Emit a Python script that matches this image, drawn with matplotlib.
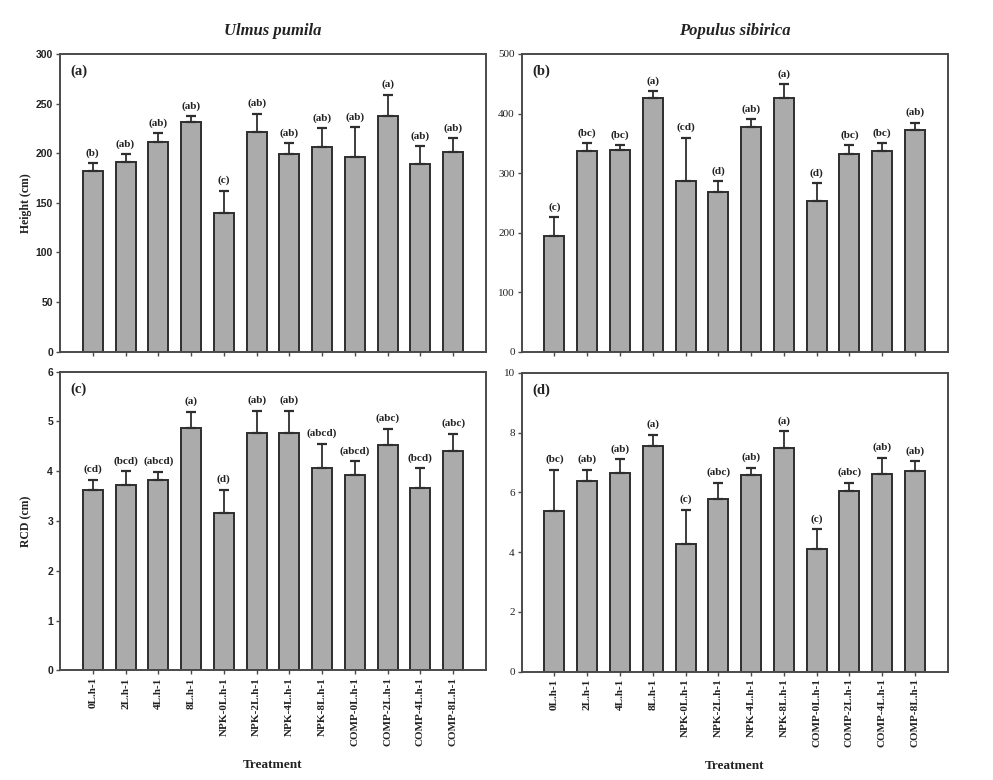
import matplotlib
matplotlib.use("Agg")
import matplotlib.pyplot as plt
import numpy as np

treatments = ["0L.h-1", "2L.h-1", "4L.h-1", "8L.h-1",
              "NPK-0L.h-1", "NPK-2L.h-1", "NPK-4L.h-1", "NPK-8L.h-1",
              "COMP-0L.h-1", "COMP-2L.h-1", "COMP-4L.h-1", "COMP-8L.h-1"]

height_ulmus = [182, 191, 211, 231, 140, 221, 199, 206, 196, 238, 189, 201]
height_ulmus_err = [8, 8, 9, 6, 22, 19, 11, 19, 30, 21, 18, 14]
height_ulmus_grp = ["(b)", "(ab)", "(ab)", "(ab)", "(c)", "(ab)", "(ab)", "(ab)", "(ab)", "(a)", "(ab)", "(ab)"]

height_populus = [195, 337, 339, 426, 286, 269, 378, 426, 253, 332, 337, 373]
height_populus_err = [31, 13, 8, 11, 73, 17, 12, 23, 30, 15, 13, 11]
height_populus_grp = ["(c)", "(bc)", "(bc)", "(a)", "(cd)", "(d)", "(ab)", "(a)", "(d)", "(bc)", "(bc)", "(ab)"]

rcd_ulmus = [3.62, 3.73, 3.83, 4.87, 3.17, 4.77, 4.77, 4.07, 3.92, 4.52, 3.67, 4.41]
rcd_ulmus_err = [0.21, 0.27, 0.16, 0.33, 0.46, 0.45, 0.44, 0.48, 0.28, 0.33, 0.39, 0.34]
rcd_ulmus_grp = ["(cd)", "(bcd)", "(abcd)", "(a)", "(d)", "(ab)", "(ab)", "(abcd)", "(abcd)", "(abc)", "(bcd)", "(abc)"]

rcd_populus = [5.38, 6.39, 6.64, 7.55, 4.26, 5.77, 6.59, 7.49, 4.11, 6.03, 6.61, 6.70]
rcd_populus_err = [1.38, 0.36, 0.46, 0.38, 1.15, 0.55, 0.23, 0.55, 0.65, 0.29, 0.55, 0.34]
rcd_populus_grp = ["(bc)", "(ab)", "(ab)", "(a)", "(c)", "(abc)", "(ab)", "(a)", "(c)", "(abc)", "(ab)", "(ab)"]

SERIF = ["Liberation Serif", "DejaVu Serif"]
SANS = ["Liberation Sans", "DejaVu Sans"]
BAR_FC = "#ababab"
EDGE = "#2e2e2e"
SPINE = "#4a4a4a"
TXT = "#222222"

fig = plt.figure(figsize=(9.93, 7.80), dpi=100)
fig.patch.set_facecolor("white")

W = 0.429
axA = fig.add_axes([0.0604, 0.5491, W, 0.3817])
axB = fig.add_axes([0.5254, 0.5491, W, 0.3817])
axC = fig.add_axes([0.0604, 0.1405, W, 0.3830])
axD = fig.add_axes([0.5254, 0.1390, W, 0.3830])

panels = [
    (axA, height_ulmus, height_ulmus_err, height_ulmus_grp, 300, 50, "(a)", SANS),
    (axB, height_populus, height_populus_err, height_populus_grp, 500, 100, "(b)", SERIF),
    (axC, rcd_ulmus, rcd_ulmus_err, rcd_ulmus_grp, 6, 1, "(c)", SANS),
    (axD, rcd_populus, rcd_populus_err, rcd_populus_grp, 10, 2, "(d)", SERIF),
]

x = np.arange(len(treatments))
for ax, vals, errs, grps, ymax, step, lab, tickfam in panels:
    ax.bar(x, vals, width=0.61, color=BAR_FC, edgecolor=EDGE, linewidth=1.4, zorder=2)
    ax.errorbar(x, vals, yerr=[np.zeros(len(vals)), errs], fmt="none",
                ecolor=EDGE, elinewidth=1.3, capsize=3.5, capthick=1.6, zorder=3)
    for xi, v, e, g in zip(x, vals, errs, grps):
        ax.annotate(g, (xi, v + e), xytext=(0, 4), textcoords="offset points",
                    ha="center", va="bottom", fontsize=8, fontweight="bold",
                    family=SERIF, color=TXT)
    ax.set_xlim(-1, 12)
    ax.set_ylim(0, ymax)
    ax.set_yticks(np.arange(0, ymax + step / 2, step))
    for s in ax.spines.values():
        s.set_color(SPINE)
        s.set_linewidth(1.4)
    ax.tick_params(axis="both", direction="out", length=3, width=1, color=SPINE, pad=2)
    for t in ax.get_yticklabels():
        t.set_family(tickfam)
        t.set_color(TXT)
        if tickfam is SANS:
            t.set_fontweight("bold")
            t.set_fontsize(7.5)
        else:
            t.set_fontsize(8)
    ax.set_xticks(x)
    ax.text(0.025, 0.965, lab, transform=ax.transAxes, ha="left", va="top",
            fontsize=10.5, fontweight="bold", family=SERIF, color=TXT)

for ax in (axA, axB):
    ax.set_xticklabels([])

for ax in (axC, axD):
    ax.set_xticklabels(treatments, rotation=90, fontsize=8, family=SERIF,
                       fontweight="bold", color=TXT)
    ax.set_xlabel("Treatment", fontsize=9.5, fontweight="bold", family=SERIF,
                  color=TXT, labelpad=9)

axA.set_ylabel("Height (cm)", fontsize=8.5, fontweight="bold", family=SERIF, color=TXT, labelpad=3)
axC.set_ylabel("RCD (cm)", fontsize=8.5, fontweight="bold", family=SERIF, color=TXT, labelpad=11)

axA.set_title("Ulmus pumila", fontsize=12, fontweight="bold", style="italic",
              family=SERIF, color=TXT, pad=14)
axB.set_title("Populus sibirica", fontsize=12, fontweight="bold", style="italic",
              family=SERIF, color=TXT, pad=14)

fig.savefig("out.png", dpi=100, facecolor="white")
